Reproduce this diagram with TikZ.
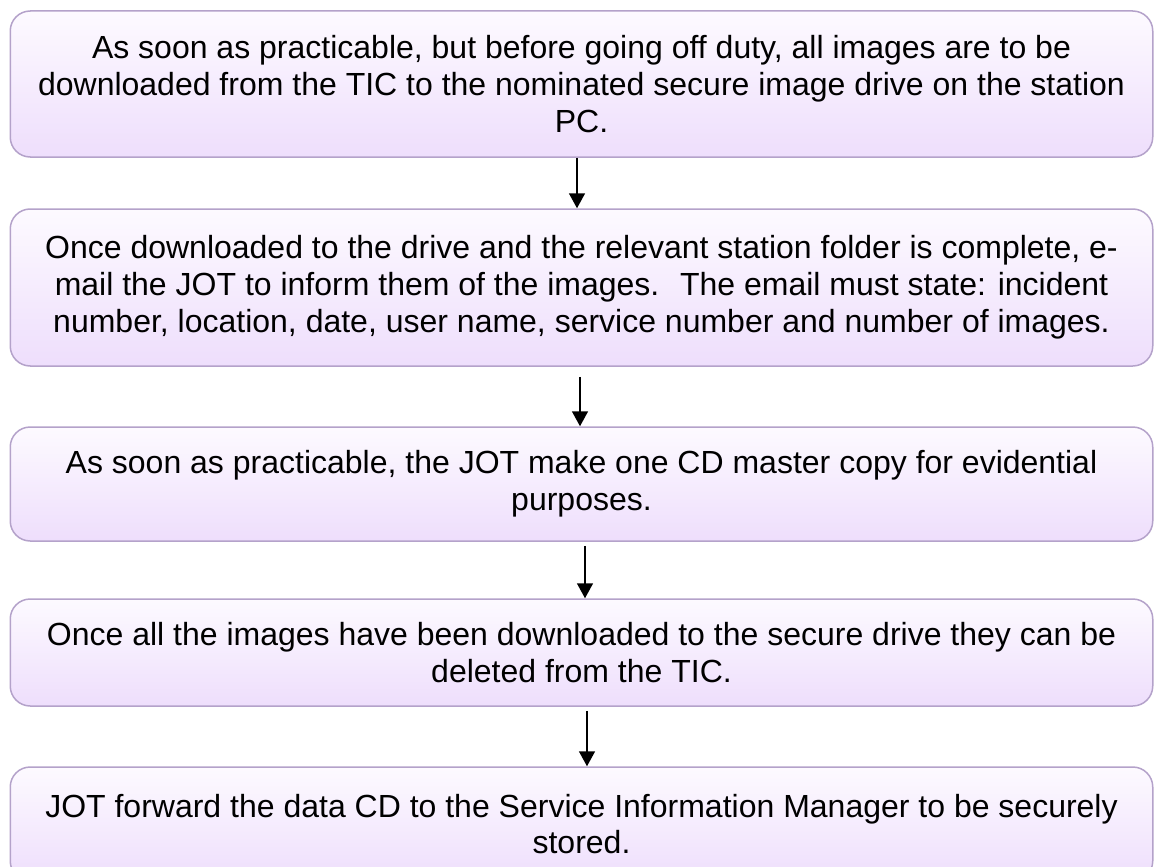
\documentclass[tikz,border=0pt]{standalone}
\usepackage{fontspec}
\setmainfont{Liberation Sans}
\usetikzlibrary{arrows.meta}
\definecolor{boxtop}{RGB}{253,250,255}
\definecolor{boxbot}{RGB}{238,222,252}
\definecolor{boxline}{RGB}{180,162,202}
\tikzset{
  stepbox/.style={rectangle, rounded corners=20pt, draw=boxline, line width=1.5pt,
    top color=boxtop, bottom color=boxbot, minimum width=1142.5pt, inner sep=0pt,
    align=center, font=\fontsize{32}{36.8}\selectfont, text=black},
  arr/.style={draw=black, line width=1.6pt, -{Triangle[width=16pt,length=15pt]}}
}
\begin{document}
\begin{tikzpicture}[x=1pt,y=-1pt]
\useasboundingbox (0,0) rectangle (1154,867);
\node[stepbox, minimum height=146pt] (b1) at (581.5,84) {As soon as practicable, but before going off duty, all images are to be\\downloaded from the TIC to the nominated secure image drive on the station\\PC.};
\node[stepbox, minimum height=157pt] (b2) at (581.5,287.5) {Once downloaded to the drive and the relevant station folder is complete, e-\\mail the JOT to inform them of the images.~ The email must state: incident\\number, location, date, user name, service number and number of images.};
\node[stepbox, minimum height=114pt] (b3) at (581.5,484) {As soon as practicable, the JOT make one CD master copy for evidential\\purposes.};
\node[stepbox, minimum height=107pt] (b4) at (581.5,652.5) {Once all the images have been downloaded to the secure drive they can be\\deleted from the TIC.};
\node[stepbox, minimum height=114pt] (b5) at (581.5,824) {JOT forward the data CD to the Service Information Manager to be securely\\stored.};
\draw[arr] ([xshift=-4.5pt]b1.south) -- ([xshift=-4.5pt]b2.north);
\draw[arr] ([xshift=-1.5pt,yshift=-10pt]b2.south) -- ([xshift=-1.5pt]b3.north);
\draw[arr] ([xshift=3.5pt,yshift=-4pt]b3.south) -- ([xshift=3.5pt]b4.north);
\draw[arr] ([xshift=5.5pt,yshift=-4pt]b4.south) -- ([xshift=5.5pt]b5.north);
\end{tikzpicture}
\end{document}
